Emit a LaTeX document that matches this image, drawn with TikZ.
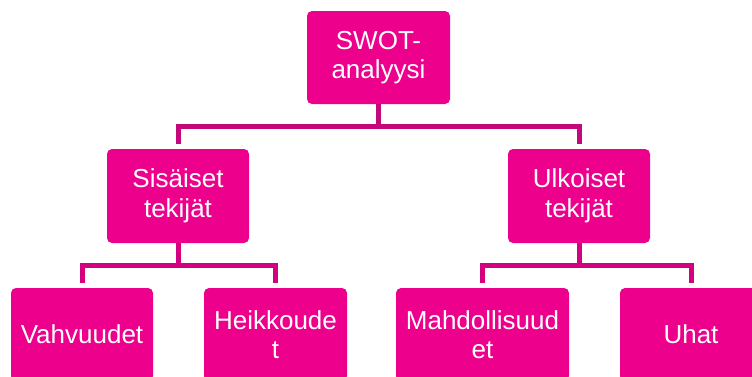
\documentclass[tikz,border=0pt]{standalone}
\usepackage{fontspec}
\setmainfont{Liberation Sans}
\definecolor{boxmag}{HTML}{EC008C}
\definecolor{linetop}{HTML}{C2087B}
\definecolor{linelow}{HTML}{D3007F}
\tikzset{
  swotbox/.style={draw=none, fill=boxmag, rounded corners=5pt, text=white,
    align=center, inner sep=0pt, minimum height=93pt,
    font=\fontsize{26}{29.5}\selectfont},
  conn/.style={line width=5pt, line cap=butt, line join=miter, shorten >=5pt},
}
\begin{document}
\begin{tikzpicture}[x=1pt,y=-1pt]
\useasboundingbox (0,0) rectangle (752,376);
\clip (0,0) rectangle (752,376);
\node[swotbox, minimum width=143pt] (top) at (378.5,57.5) {SWOT-\\analyysi};
\node[swotbox, minimum width=142pt, minimum height=94pt] (sis) at (178,196) {Sisäiset\\tekijät};
\node[swotbox, minimum width=142pt, minimum height=94pt] (ulk) at (579,196) {Ulkoiset\\tekijät};
\node[swotbox, minimum width=142pt] (vah) at (82,334.5) {Vahvuudet};
\node[swotbox, minimum width=143pt] (hei) at (275.5,334.5) {Heikkoude\\t};
\node[swotbox, minimum width=173pt] (mah) at (482.5,334.5) {Mahdollisuud\\et};
\node[swotbox, minimum width=142pt] (uha) at (691,334.5) {Uhat};
\draw[conn, draw=linetop] (top.south) -- ++(0,22.5) -| (sis.north);
\draw[conn, draw=linetop] (top.south) -- ++(0,22.5) -| (ulk.north);
\draw[conn, draw=linelow] (sis.south) -- ++(0,22.5) -| (vah.north);
\draw[conn, draw=linelow] (sis.south) -- ++(0,22.5) -| (hei.north);
\draw[conn, draw=linelow] (ulk.south) -- ++(0,22.5) -| (mah.north);
\draw[conn, draw=linelow] (ulk.south) -- ++(0,22.5) -| (uha.north);
\end{tikzpicture}
\end{document}
